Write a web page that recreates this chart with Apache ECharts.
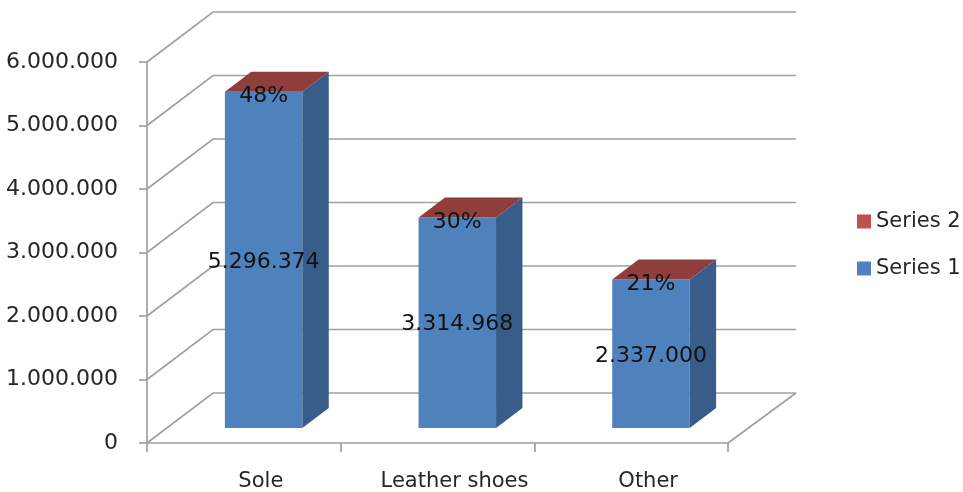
<!DOCTYPE html>
<html>
<head>
<meta charset="utf-8">
<script src="https://cdn.jsdelivr.net/npm/echarts@6/dist/echarts.min.js"></script>
<style>
html,body{margin:0;padding:0;background:#fff;}
#chart{width:963px;height:492px;}
</style>
</head>
<body>
<div id="chart"></div>
<script>
var categories = ['Sole', 'Leather shoes', 'Other'];
var series1 = [5296374, 3314968, 2337000];
var series2 = [0.48, 0.30, 0.21];
var yTicks = [0, 1000000, 2000000, 3000000, 4000000, 5000000, 6000000];

var DX = 66, DY = -50;          // depth of the 3D box
var F0 = 0.3, F1 = 0.7;         // bar front/back depth fractions
var FONT = 'DejaVu Sans';

function fmt(v) {
  return String(Math.round(v)).replace(/\B(?=(\d{3})+(?!\d))/g, '.');
}

function wallItem(params, api) {
  var cs = params.coordSys;
  var v = api.value(1);
  var y = api.coord([0, v])[1];
  var x0 = cs.x, x1 = cs.x + cs.width;
  var st = { stroke: '#a0a0a0', lineWidth: 1.7, fill: null };
  var children = [{
    type: 'polyline', shape: { points: [[x0, y], [x0 + DX, y + DY], [x1 + DX + 2, y + DY]] }, style: st
  }];
  if (v === 0) {
    children.push({ type: 'line', shape: { x1: x1, y1: y, x2: x1 + DX + 2, y2: y + DY }, style: st });
  }
  return { type: 'group', children: children };
}

function barItem(params, api) {
  var i = api.value(0), v = api.value(1);
  var top = api.coord([i, v]);
  var base = api.coord([i, 0]);
  var bw = api.size([1, 0])[0] * 0.4;
  var xl = top[0] - bw / 2 + DX * F0, xr = xl + bw;
  var yt = top[1] + DY * F0, yb = base[1] + DY * F0;
  var ddx = DX * (F1 - F0), ddy = DY * (F1 - F0);
  return {
    type: 'group',
    children: [
      { type: 'rect', shape: { x: xl, y: yt, width: bw, height: yb - yt }, style: { fill: '#4F81BD' } },
      { type: 'polygon', shape: { points: [[xr, yt], [xr + ddx, yt + ddy], [xr + ddx, yb + ddy], [xr, yb]] }, style: { fill: '#385D8A' } },
      { type: 'text', z2: 10, style: { text: fmt(v), x: (xl + xr) / 2, y: (yt + yb) / 2 + 2, textAlign: 'center', textVerticalAlign: 'middle', align: 'center', verticalAlign: 'middle', fontSize: 22, fontFamily: FONT, fill: '#111' } }
    ]
  };
}

function topItem(params, api) {
  var i = api.value(0), v1 = api.value(1), v2 = api.value(2);
  var top = api.coord([i, v1 + v2]);
  var bw = api.size([1, 0])[0] * 0.4;
  var xl = top[0] - bw / 2 + DX * F0, xr = xl + bw;
  var yt = top[1] + DY * F0;
  var ddx = DX * (F1 - F0), ddy = DY * (F1 - F0);
  return {
    type: 'group',
    children: [
      { type: 'polygon', shape: { points: [[xl, yt], [xr, yt], [xr + ddx, yt + ddy], [xl + ddx, yt + ddy]] }, style: { fill: '#8F3E3B' } },
      { type: 'text', z2: 10, style: { text: Math.round(v2 * 100) + '%', x: (xl + xr) / 2, y: yt + 5, textAlign: 'center', textVerticalAlign: 'middle', align: 'center', verticalAlign: 'middle', fontSize: 22, fontFamily: FONT, fill: '#111' } }
    ]
  };
}

var chart = echarts.init(document.getElementById('chart'), null, { renderer: 'canvas' });
chart.setOption({
  animation: false,
  backgroundColor: '#fff',
  grid: { left: 147, top: 62, width: 581, height: 381, containLabel: false },
  legend: {
    data: ['Series 2', 'Series 1'],
    orient: 'vertical',
    left: 852, top: 206,
    itemWidth: 14, itemHeight: 14, itemGap: 26,
    icon: 'rect',
    textStyle: { fontSize: 21, fontFamily: FONT, color: '#262626' }
  },
  xAxis: {
    type: 'category',
    data: categories,
    boundaryGap: true,
    axisLine: { show: true, lineStyle: { color: '#a0a0a0', width: 1.7 } },
    axisTick: { show: true, length: 9, lineStyle: { color: '#a0a0a0', width: 1.7 } },
    axisLabel: { margin: 28, padding: [0, 0, 0, 34], fontSize: 21, fontFamily: FONT, color: '#262626' },
    splitLine: { show: false }
  },
  yAxis: {
    type: 'value',
    min: 0, max: 6000000, interval: 1000000,
    axisLine: { show: true, lineStyle: { color: '#a0a0a0', width: 1.7 } },
    axisTick: { show: true, length: 8, lineStyle: { color: '#a0a0a0', width: 1.7 } },
    axisLabel: { margin: 29, fontSize: 22, fontFamily: FONT, color: '#262626', formatter: function (v) { return fmt(v); } },
    splitLine: { show: false }
  },
  series: [
    {
      type: 'custom', name: 'walls', z: 1, silent: true,
      renderItem: wallItem,
      encode: { x: 0, y: 1 },
      data: yTicks.map(function (v) { return [0, v]; })
    },
    {
      type: 'custom', name: 'Series 1', z: 2,
      itemStyle: { color: '#4F81BD' },
      renderItem: barItem,
      encode: { x: 0, y: 1 },
      data: series1.map(function (v, i) { return [i, v]; })
    },
    {
      type: 'custom', name: 'Series 2', z: 3,
      itemStyle: { color: '#C0504D' },
      renderItem: topItem,
      encode: { x: 0, y: 1 },
      data: series1.map(function (v, i) { return [i, v, series2[i]]; })
    }
  ]
});
</script>
</body>
</html>
